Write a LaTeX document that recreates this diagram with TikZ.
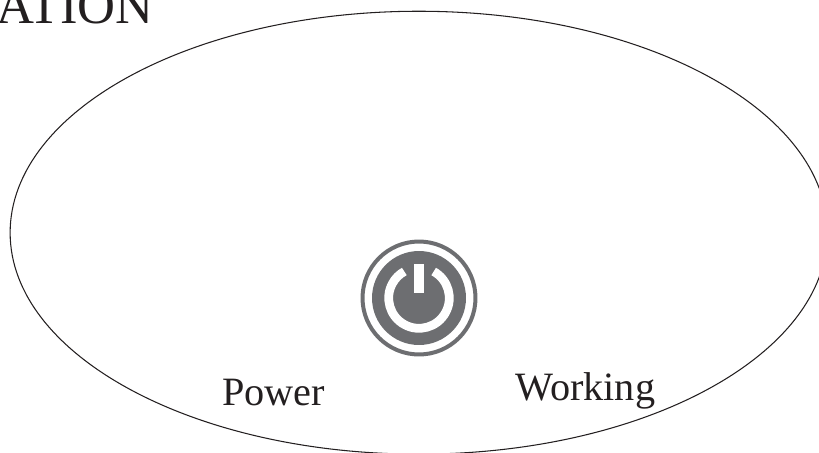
\documentclass[tikz,border=0pt]{standalone}
\usepackage{fontspec}
\setmainfont{Liberation Serif}
\usetikzlibrary{shapes.geometric}
\definecolor{inkdark}{HTML}{231F20}
\definecolor{icongray}{HTML}{6D6E71}
\tikzset{
    label/.style={text=inkdark, inner sep=0pt, font=\fontsize{22.9}{24}\selectfont},
    disc/.style={circle, inner sep=0pt},
}
\begin{document}
\begin{tikzpicture}[x=0.02cm, y=-0.02cm]
        \useasboundingbox (0, 0) rectangle (819, 453);

        % Nodes
        \node[label, anchor=base east, font=\fontsize{29.9}{30}\selectfont] (title) at (154, 24) {ATION};
        \node[ellipse, draw=inkdark, line width=0.6pt, inner sep=0pt, minimum width=16.35cm, minimum height=8.86cm] (outline) at (418.8, 232.7) {};
        \node[label, anchor=base west] (power) at (222, 405) {Power};
        \node[label, anchor=base west] (working) at (515, 400) {Working};

        % Power icon
        \node[disc, draw=icongray, line width=0.08cm, minimum size=2.26cm] (ring) at (419, 298) {};
        \node[disc, fill=icongray, minimum size=1.88cm] (button) at (419, 298) {};
        \draw[white, line width=0.175cm] (419, 298) ++(61:30.3 and -30.3) arc[start angle=61, end angle=-241, x radius=30.3, y radius=-30.3];
        \node[fill=white, inner sep=0pt, minimum width=0.19cm, minimum height=0.58cm] (bar) at (419, 278.5) {};
    \end{tikzpicture}
\end{document}
